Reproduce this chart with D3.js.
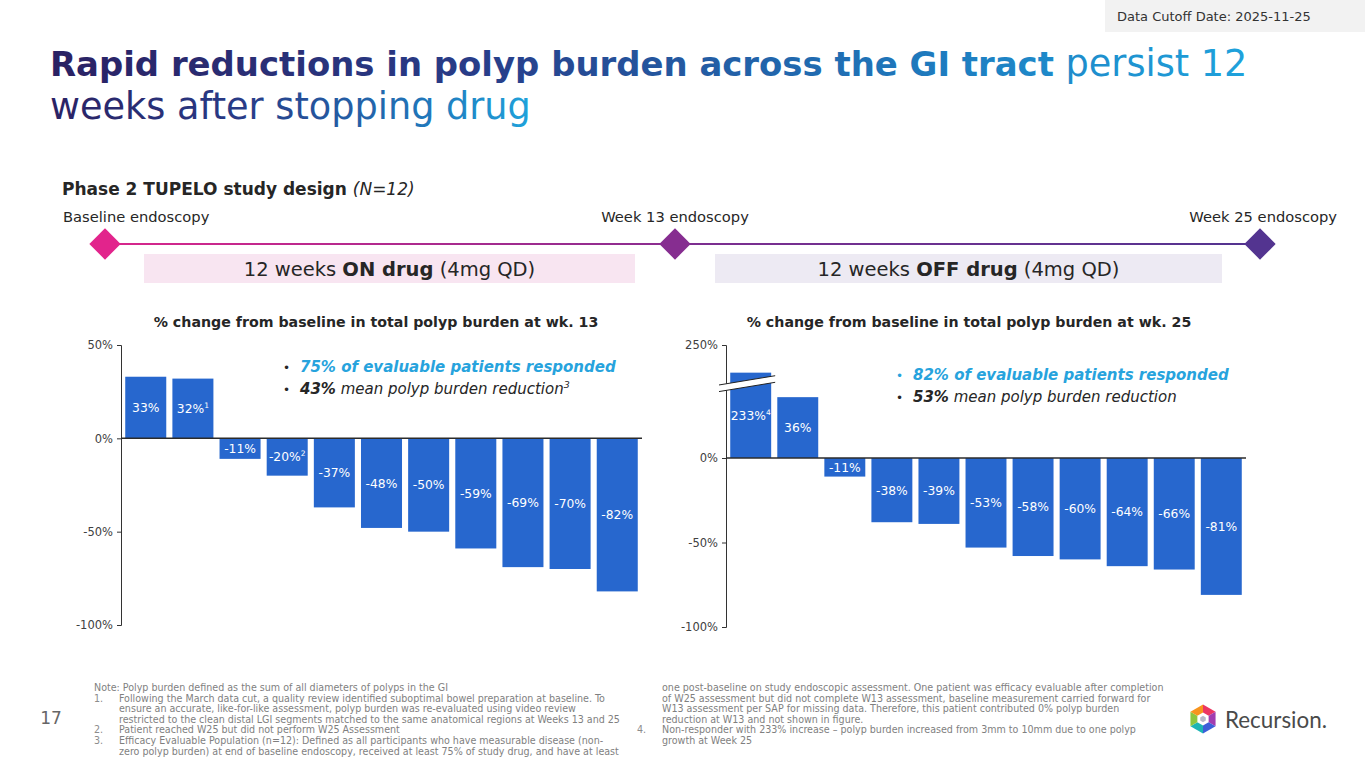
<!DOCTYPE html>
<html lang="en">
<head>
<meta charset="utf-8">
<script src="https://d3js.org/d3.v7.min.js"></script>
<title>TUPELO polyp burden</title>
<style>
  body { margin: 0; background: #fff; }
  svg { display: block; font-family: "DejaVu Sans", Verdana, sans-serif; }
</style>
</head>
<body>
<svg id="slide" width="1365" height="768"></svg>
<script>
  // ---- data ----
  const slots = ["1", "2", "3", "4", "5", "6", "7", "8", "9", "10", "11"];
  const wk13Values = [33, 32, -11, -20, -37, -48, -50, -59, -69, -70, -82];
  const wk13Notes = ["", "1", "", "2", "", "", "", "", "", "", ""];
  const wk25Values = [233, 36, -11, -38, -39, -53, -58, -60, -64, -66, -81];
  const wk25Notes = ["4", "", "", "", "", "", "", "", "", "", ""];
  const wk13Ticks = [50, 0, -50, -100];
  const wk25Ticks = [250, 0, -50, -100];
  const visitLabels = ["Baseline endoscopy", "Week 13 endoscopy", "Week 25 endoscopy"];
  const visitWeeks = [0, 12, 24];
  const visitColors = ["#E2248C", "#862D90", "#533490"];

  const BAR = "#2767CE";
  const LIGHTBLUE = "#27A3DD";
  const DARK = "#262626";

  const svg = d3.select("#slide");
  const defs = svg.append("defs");

  function gradient(id, x1, x2, stops) {
    const lg = defs.append("linearGradient").attr("id", id)
      .attr("gradientUnits", "userSpaceOnUse")
      .attr("x1", x1).attr("x2", x2).attr("y1", 0).attr("y2", 0);
    stops.forEach(s => lg.append("stop").attr("offset", s[0]).attr("stop-color", s[1]));
  }
  gradient("title1", 50, 1250, [[0, "#2A2163"], [0.35, "#283C88"], [0.75, "#1E7DC0"], [1, "#1FA2DC"]]);
  gradient("title2", 50, 540, [[0, "#2A2163"], [0.4, "#283C88"], [0.75, "#2174B8"], [1, "#1FA6DE"]]);
  gradient("tl1", 105, 675, [[0, "#D8268C"], [1, "#8A2D90"]]);
  gradient("tl2", 675, 1260, [[0, "#7E2E90"], [1, "#533490"]]);

  // ---- data cutoff tag ----
  svg.append("rect").attr("x", 1105).attr("y", 0).attr("width", 260).attr("height", 32).attr("fill", "#F2F2F2");
  svg.append("text").attr("x", 1117).attr("y", 20.5).attr("font-size", 13).attr("fill", "#333")
    .text("Data Cutoff Date: 2025-11-25");

  // ---- title ----
  // line 2 is fitted first; its size is reused for the regular part of line 1
  const t2 = svg.append("text").attr("x", 50).attr("y", 119).attr("fill", "url(#title2)").attr("font-size", 30)
    .text("weeks after stopping drug");
  const regSize = 30 * 481 / t2.node().getComputedTextLength();
  t2.attr("font-size", regSize);

  const t1 = svg.append("text").attr("x", 50).attr("y", 76).attr("fill", "url(#title1)");
  const t1b = t1.append("tspan").attr("font-weight", "bold").attr("font-size", 30)
    .text("Rapid reductions in polyp burden across the GI tract");
  const t1r = t1.append("tspan").attr("font-size", regSize).text(" persist 12");
  const boldSize = 30 * (1198 - t1r.node().getComputedTextLength()) / t1b.node().getComputedTextLength();
  t1b.attr("font-size", boldSize);

  // ---- study design timeline ----
  const sd = svg.append("text").attr("x", 62).attr("y", 195).attr("font-size", 17).attr("fill", DARK);
  sd.append("tspan").attr("font-weight", "bold").text("Phase 2 TUPELO study design ");
  sd.append("tspan").attr("font-style", "italic").text("(N=12)");

  const tx = d3.scaleLinear().domain(visitWeeks).range([105, 675, 1260]);
  const tlY = 244;
  svg.append("line").attr("x1", tx(0)).attr("x2", tx(12)).attr("y1", tlY).attr("y2", tlY + 0.01)
    .attr("stroke", "url(#tl1)").attr("stroke-width", 2);
  svg.append("line").attr("x1", tx(12)).attr("x2", tx(24)).attr("y1", tlY).attr("y2", tlY + 0.01)
    .attr("stroke", "url(#tl2)").attr("stroke-width", 2);

  const diamond = d3.symbol().type(d3.symbolSquare).size(490);
  svg.selectAll("path.visit").data(visitWeeks).join("path")
    .attr("class", "visit")
    .attr("d", diamond)
    .attr("transform", d => `translate(${tx(d)},${tlY}) rotate(45)`)
    .attr("fill", (d, i) => visitColors[i]);

  svg.selectAll("text.visit").data(visitLabels).join("text")
    .attr("class", "visit")
    .attr("x", (d, i) => i === 0 ? 63 : i === 1 ? tx(12) : 1337)
    .attr("y", 222)
    .attr("text-anchor", (d, i) => i === 0 ? "start" : i === 1 ? "middle" : "end")
    .attr("font-size", 14.7).attr("fill", DARK)
    .text(d => d);

  function phaseBox(x0, x1, fill, word) {
    svg.append("rect").attr("x", x0).attr("y", 254).attr("width", x1 - x0).attr("height", 29).attr("fill", fill);
    const t = svg.append("text").attr("x", (x0 + x1) / 2).attr("y", 275.5).attr("text-anchor", "middle")
      .attr("font-size", 19.5).attr("fill", DARK);
    t.append("tspan").text("12 weeks ");
    t.append("tspan").attr("font-weight", "bold").text(word);
    t.append("tspan").text(" (4mg QD)");
  }
  phaseBox(144, 635, "#F8E5F1", "ON drug");
  phaseBox(715, 1222, "#EDEAF3", "OFF drug");

  // ---- waterfall charts ----
  function drawChart(o) {
    const g = svg.append("g");
    const x = d3.scaleBand().domain(slots).range(o.xRange).paddingInner(0.13).paddingOuter(0.09);
    const y = o.y;
    const shown = v => o.cap != null ? Math.min(v, o.cap) : v;

    g.append("text").attr("x", o.titleX).attr("y", 327).attr("text-anchor", "middle")
      .attr("font-size", 14.2).attr("font-weight", "bold").attr("fill", DARK).text(o.title);

    g.selectAll("rect.bar").data(o.values).join("rect")
      .attr("class", "bar")
      .attr("x", (d, i) => x(slots[i]))
      .attr("width", x.bandwidth())
      .attr("y", d => y(Math.max(0, shown(d))))
      .attr("height", d => Math.abs(y(shown(d)) - y(0)))
      .attr("fill", BAR);

    const lab = g.selectAll("text.lab").data(o.values).join("text")
      .attr("class", "lab")
      .attr("x", (d, i) => x(slots[i]) + x.bandwidth() / 2)
      .attr("y", d => (y(0) + y(shown(d))) / 2 + 4.4)
      .attr("text-anchor", "middle").attr("font-size", 12.3).attr("fill", "#fff");
    lab.append("tspan").text(d => d + "%");
    lab.append("tspan").attr("font-size", 7.5).attr("dy", -5).text((d, i) => o.notes[i]);

    const ax = g.append("g").attr("transform", `translate(${o.xRange[0]},0)`)
      .call(d3.axisLeft(y).tickValues(o.ticks).tickFormat(d => d + "%").tickSize(4).tickPadding(4));
    ax.select(".domain").attr("stroke", "#333");
    ax.selectAll(".tick line").attr("stroke", "#333");
    ax.selectAll(".tick text").attr("fill", "#404040").attr("font-size", 11.5)
      .attr("font-family", "'DejaVu Sans', Verdana, sans-serif");

    g.append("line").attr("x1", o.xRange[0]).attr("x2", o.xRange[1])
      .attr("y1", y(0)).attr("y2", y(0)).attr("stroke", "#2B2B2B").attr("stroke-width", 1.5);

    if (o.cap != null) {
      // axis break drawn across the truncated first bar
      const bx0 = o.xRange[0] - 7, bx1 = x(slots[0]) + x.bandwidth() + 4;
      const mid = (bx0 + bx1) / 2, yc = y(o.breakAt), slope = -0.165, half = 3.3;
      const yl = xx => yc + slope * (xx - mid);
      g.append("path")
        .attr("d", `M${bx0},${yl(bx0) - half}L${bx1},${yl(bx1) - half}L${bx1},${yl(bx1) + half}L${bx0},${yl(bx0) + half}Z`)
        .attr("fill", "#fff");
      [-half, half].forEach(h => {
        g.append("line").attr("x1", bx0).attr("x2", bx1)
          .attr("y1", yl(bx0) + h).attr("y2", yl(bx1) + h)
          .attr("stroke", "#222").attr("stroke-width", 1);
      });
    }

    // bullets
    o.bullets.forEach((b, i) => {
      const by = o.bulletY[i];
      g.append("text").attr("x", o.bulletX).attr("y", by).attr("font-size", 12)
        .attr("fill", i === 0 ? o.firstBulletColor : DARK).text("•");
      const t = g.append("text").attr("x", o.bulletX + 17).attr("y", by).attr("font-size", 15)
        .attr("font-style", "italic");
      b.forEach(part => {
        const s = t.append("tspan").text(part.text).attr("fill", part.color || DARK);
        if (part.bold) s.attr("font-weight", "bold");
        if (part.sup) s.attr("font-size", 9.5).attr("dy", -6);
      });
    });
  }

  drawChart({
    title: "% change from baseline in total polyp burden at wk. 13",
    titleX: 376,
    values: wk13Values, notes: wk13Notes, ticks: wk13Ticks,
    xRange: [121, 642],
    y: d3.scaleLinear().domain([-100, 50]).range([625, 345]),
    bulletX: 283, bulletY: [371.5, 394], firstBulletColor: DARK,
    bullets: [
      [{ text: "75% of evaluable patients responded", bold: true, color: LIGHTBLUE }],
      [{ text: "43%", bold: true }, { text: " mean polyp burden reduction" }, { text: "3", sup: true }]
    ]
  });

  drawChart({
    title: "% change from baseline in total polyp burden at wk. 25",
    titleX: 969,
    values: wk25Values, notes: wk25Notes, ticks: wk25Ticks,
    xRange: [726, 1246],
    y: d3.scaleLinear().domain([-100, 0, 55, 250]).range([627, 458, 458 - 55 * 1.69, 345]),
    cap: 50.5, breakAt: 44,
    bulletX: 896, bulletY: [380, 402], firstBulletColor: LIGHTBLUE,
    bullets: [
      [{ text: "82% of evaluable patients responded", bold: true, color: LIGHTBLUE }],
      [{ text: "53%", bold: true }, { text: " mean polyp burden reduction" }]
    ]
  });

  // ---- footnotes ----
  const leftNotes = [
    ["", "Note: Polyp burden defined as the sum of all diameters of polyps in the GI"],
    ["1.", "Following the March data cut, a quality review identified suboptimal bowel preparation at baseline. To"],
    ["", "ensure an accurate, like-for-like assessment, polyp burden was re-evaluated using video review"],
    ["", "restricted to the clean distal LGI segments matched to the same anatomical regions at Weeks 13 and 25"],
    ["2.", "Patient reached W25 but did not perform W25 Assessment"],
    ["3.", "Efficacy Evaluable Population (n=12): Defined as all participants who have measurable disease (non-"],
    ["", "zero polyp burden) at end of baseline endoscopy, received at least 75% of  study drug, and have at least"]
  ];
  const rightNotes = [
    ["", "one post-baseline on study endoscopic assessment. One patient was efficacy evaluable after completion"],
    ["", "of W25 assessment but did not complete W13 assessment, baseline measurement carried forward for"],
    ["", "W13 assessment per SAP for missing data. Therefore, this patient contributed 0% polyp burden"],
    ["", "reduction at W13 and not shown in figure."],
    ["4.", "Non-responder with 233% increase – polyp burden increased from 3mm to 10mm due to one polyp"],
    ["", "growth at Week 25"]
  ];
  const noteFont = "'DejaVu Sans Condensed', 'Liberation Sans Narrow', 'DejaVu Sans', sans-serif";
  const probe = svg.append("text").attr("font-family", noteFont).attr("font-size", 10).text(leftNotes[1][1]);
  const noteSize = 10 * 486 / probe.node().getComputedTextLength();
  probe.remove();

  function notes(rows, numX, textX, firstIsNote) {
    rows.forEach((r, i) => {
      const yy = 691 + i * 10.6;
      const isNoteLine = firstIsNote && i === 0;
      if (r[0]) svg.append("text").attr("x", numX).attr("y", yy).attr("font-family", noteFont)
        .attr("font-size", noteSize).attr("fill", "#8C8C8C").text(r[0]);
      svg.append("text").attr("x", isNoteLine ? numX : textX).attr("y", yy).attr("font-family", noteFont)
        .attr("font-size", noteSize).attr("fill", "#7F7F7F").text(r[1]);
    });
  }
  notes(leftNotes, 94, 119, true);
  notes(rightNotes, 637, 662, false);

  svg.append("text").attr("x", 51).attr("y", 724).attr("text-anchor", "middle")
    .attr("font-size", 17).attr("fill", "#666").text("17");

  // ---- logo ----
  const logo = svg.append("g").attr("transform", "translate(1203,719)");
  const hexPt = (r, k) => [r * Math.cos((-90 + 60 * k) * Math.PI / 180), r * Math.sin((-90 + 60 * k) * Math.PI / 180)];
  const hexColors = ["#EC3663", "#A23DB0", "#3C5FD8", "#1DB4B4", "#8DC63F", "#F7941E"];
  hexColors.forEach((c, k) => {
    const a = hexPt(14.5, k), b = hexPt(14.5, k + 1);
    logo.append("path").attr("d", `M0,0L${a}L${b}Z`).attr("fill", c);
  });
  logo.append("path").attr("d", "M" + d3.range(6).map(k => hexPt(6.5, k)).join("L") + "Z").attr("fill", "#fff");
  logo.append("path").attr("d", "M" + d3.range(6).map(k => hexPt(3.2, k)).join("L") + "Z").attr("fill", "#B8B8C8");
  const rec = svg.append("text").attr("x", 1225).attr("y", 727.5).attr("font-family", "Lato, 'Open Sans', sans-serif")
    .attr("font-size", 22).attr("fill", "#4A4A4A").text("Recursion.");
  rec.attr("font-size", 22 * 102 / rec.node().getComputedTextLength());
</script>
</body>
</html>
